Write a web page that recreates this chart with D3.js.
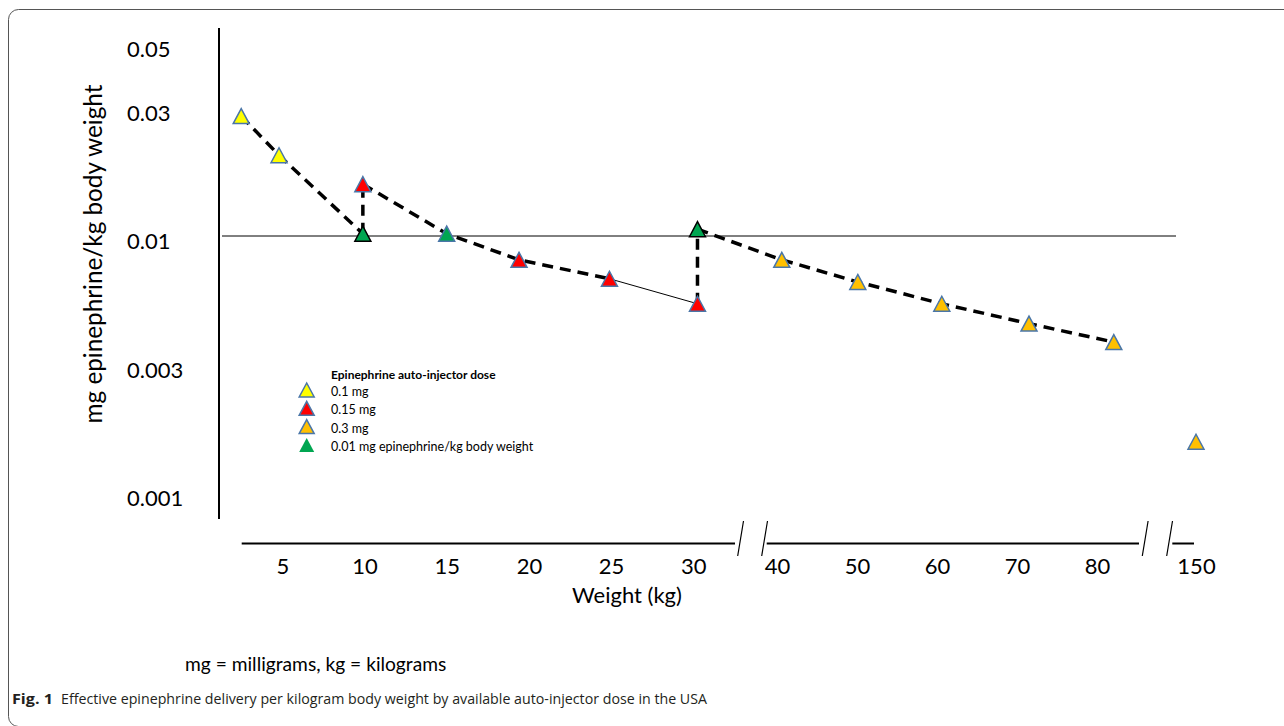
<!DOCTYPE html>
<html>
<head>
<meta charset="utf-8">
<script src="https://cdn.jsdelivr.net/npm/d3@7"></script>
<style>
body { margin: 0; background: #fff; }
svg { display: block; }
</style>
</head>
<body>
<script>
// value axis labels
var yTicks = [0.05, 0.03, 0.01, 0.003, 0.001];
var yTickLabels = ["0.05", "0.03", "0.01", "0.003", "0.001"];
var xTicks = [5, 10, 15, 20, 25, 30, 40, 50, 60, 70, 80, 150];

// mg epinephrine per kg, by auto-injector dose
var lowWeights = [2.5, 4.8];                 // 0.1 mg
var lowValues = [0.028, 0.020];
var midWeights = [9.9, 19.4, 24.9, 30.5];    // 0.15 mg
var midValues = [0.0156, 0.0080, 0.0067, 0.0053];
var highWeights = [40.6, 50.1, 60.6, 71.5, 82.1, 150];   // 0.3 mg
var highValues = [0.0080, 0.0065, 0.0053, 0.0044, 0.0037, 0.00155];
var targetWeights = [9.9, 15, 30.5];         // 0.01 mg/kg
var targetValues = [0.0102, 0.0102, 0.0106];

var legendTitle = "Epinephrine auto-injector dose";
var legendLabels = ["0.1 mg", "0.15 mg", "0.3 mg", "0.01 mg epinephrine/kg body weight"];

var W = 1284, H = 726;
var font = "Lato, 'Open Sans', sans-serif";
var markerLine = "#4a76a8";
var colors = { low: "#ffff00", mid: "#ff0000", high: "#ffc000", target: "#00a651" };

function pts(ws, vs) {
	return ws.map(function(w, i) { return { w: w, v: vs[i] }; });
}
var low = pts(lowWeights, lowValues);
var mid = pts(midWeights, midValues);
var high = pts(highWeights, highValues);
var target = pts(targetWeights, targetValues);

// broken weight axis: 0-30, 30-40 gap, 40-90, then squeezed to 150
var x = d3.scaleLinear()
	.domain([0, 30, 40, 90, 150])
	.range([200.1, 693.3, 777, 1177, 1196]);

// log axis with the label spacing used in the figure
var y = d3.scaleLog()
	.domain(yTicks)
	.range([44, 108, 236, 364.5, 493]);

var svg = d3.select("body").append("svg")
	.attr("width", W)
	.attr("height", H);

// panel frame
svg.append("rect")
	.attr("x", 8.5).attr("y", 9.5)
	.attr("width", 1320).attr("height", 717)
	.attr("rx", 10)
	.attr("fill", "none")
	.attr("stroke", "#555")
	.attr("stroke-width", 1);

// y axis line
svg.append("line")
	.attr("x1", 219).attr("x2", 219)
	.attr("y1", 28).attr("y2", 519)
	.attr("stroke", "#000").attr("stroke-width", 2);

// y tick labels
var yAxis = svg.append("g")
	.call(d3.axisLeft(y).tickValues(yTicks).tickSize(0)
		.tickFormat(function(d, i) { return yTickLabels[i]; }));
yAxis.select(".domain").remove();
yAxis.selectAll("text")
	.attr("x", 127)
	.attr("dy", 12.5)
	.attr("text-anchor", "start")
	.attr("font-family", font)
	.attr("font-size", 22)
	.attr("fill", "#000");

// 0.01 mg/kg reference line
svg.append("line")
	.attr("x1", 222).attr("x2", 1176)
	.attr("y1", y(0.01)).attr("y2", y(0.01))
	.attr("stroke", "#000").attr("stroke-width", 1);

// x axis with breaks
var segs = [[241.7, 735], [766.7, 1139], [1172.3, 1194]];
svg.selectAll(".xseg").data(segs).enter().append("line")
	.attr("x1", function(d) { return d[0]; })
	.attr("x2", function(d) { return d[1]; })
	.attr("y1", 543.5).attr("y2", 543.5)
	.attr("stroke", "#000").attr("stroke-width", 2);

var slashes = [737.7, 761.7, 1142.3, 1166.7];
svg.selectAll(".slash").data(slashes).enter().append("line")
	.attr("x1", function(d) { return d; })
	.attr("x2", function(d) { return d + 5.8; })
	.attr("y1", 556).attr("y2", 521)
	.attr("stroke", "#000").attr("stroke-width", 1.2);

var xAxis = svg.append("g")
	.attr("transform", "translate(0,543)")
	.call(d3.axisBottom(x).tickValues(xTicks).tickSize(0));
xAxis.select(".domain").remove();
xAxis.selectAll("text")
	.attr("y", 31)
	.attr("dy", 0)
	.attr("font-family", font)
	.attr("font-size", 22)
	.attr("fill", "#000");

// axis titles
svg.append("text")
	.attr("x", 627).attr("y", 603)
	.attr("text-anchor", "middle")
	.attr("font-family", font)
	.attr("font-size", 22)
	.text("Weight (kg)");

svg.append("text")
	.attr("transform", "translate(102,254) rotate(-90)")
	.attr("text-anchor", "middle")
	.attr("font-family", font)
	.attr("font-size", 24.3)
	.text("mg epinephrine/kg body weight");

// connecting lines
var line = d3.line()
	.x(function(d) { return x(d.w); })
	.y(function(d) { return y(d.v); });

var dashedRuns = [
	[low[0], low[1], target[0]],
	[target[0], mid[0]],
	[mid[0], target[1], mid[1], mid[2]],
	[mid[3], target[2]],
	[target[2]].concat(high.slice(0, 5))
];
svg.selectAll(".dash").data(dashedRuns).enter().append("path")
	.attr("d", line)
	.attr("fill", "none")
	.attr("stroke", "#000")
	.attr("stroke-width", 3.5)
	.attr("stroke-dasharray", "11,7");

svg.append("path")
	.attr("d", line([mid[2], mid[3]]))
	.attr("fill", "none")
	.attr("stroke", "#000")
	.attr("stroke-width", 1);

// triangle markers
function tri(w, h) {
	return "M0," + (-h / 2) + "L" + (w / 2) + "," + (h / 2) + "L" + (-w / 2) + "," + (h / 2) + "Z";
}

function markers(data, fill, strokeFn) {
	svg.append("g").selectAll("path").data(data).enter().append("path")
		.attr("d", tri(16, 15))
		.attr("transform", function(d) { return "translate(" + x(d.w) + "," + y(d.v) + ")"; })
		.attr("fill", fill)
		.attr("stroke", strokeFn)
		.attr("stroke-width", 1.5)
		.attr("stroke-linejoin", "miter");
}
markers(low, colors.low, markerLine);
markers(mid, colors.mid, markerLine);
markers(high, colors.high, markerLine);
// green points where a dose switch happens get a black outline
markers(target, colors.target, function(d) {
	return midWeights.indexOf(d.w) >= 0 ? "#000" : markerLine;
});

// legend
var lg = svg.append("g").attr("transform", "translate(306.7,0)");
lg.append("text")
	.attr("x", 24.3).attr("y", 378.5)
	.attr("font-family", font)
	.attr("font-size", 12)
	.attr("font-weight", "bold")
	.text(legendTitle);

var legendFills = [colors.low, colors.mid, colors.high, colors.target];
var li = lg.selectAll(".li").data(legendLabels).enter().append("g")
	.attr("transform", function(d, i) { return "translate(0," + (390 + i * 18.3) + ")"; });
li.append("path")
	.attr("d", tri(15, 14))
	.attr("fill", function(d, i) { return legendFills[i]; })
	.attr("stroke", function(d, i) { return i === 3 ? "none" : markerLine; })
	.attr("stroke-width", 1.5);
li.append("text")
	.attr("x", 24.3).attr("y", 6)
	.attr("font-family", font)
	.attr("font-size", 12.5)
	.text(function(d) { return d; });

// notes and caption
svg.append("text")
	.attr("x", 185).attr("y", 671)
	.attr("font-family", font)
	.attr("font-size", 19.2)
	.text("mg = milligrams, kg = kilograms");

var cap = svg.append("text")
	.attr("y", 704)
	.attr("font-family", "'Liberation Sans Narrow', 'Open Sans', sans-serif")
	.attr("font-size", 15)
	.attr("fill", "#231f20");
cap.append("tspan")
	.attr("x", 12)
	.attr("font-weight", "bold")
	.attr("textLength", 41)
	.attr("lengthAdjust", "spacingAndGlyphs")
	.text("Fig. 1");
cap.append("tspan")
	.attr("x", 61)
	.attr("textLength", 646)
	.attr("lengthAdjust", "spacingAndGlyphs")
	.text("Effective epinephrine delivery per kilogram body weight by available auto-injector dose in the USA");
</script>
</body>
</html>
